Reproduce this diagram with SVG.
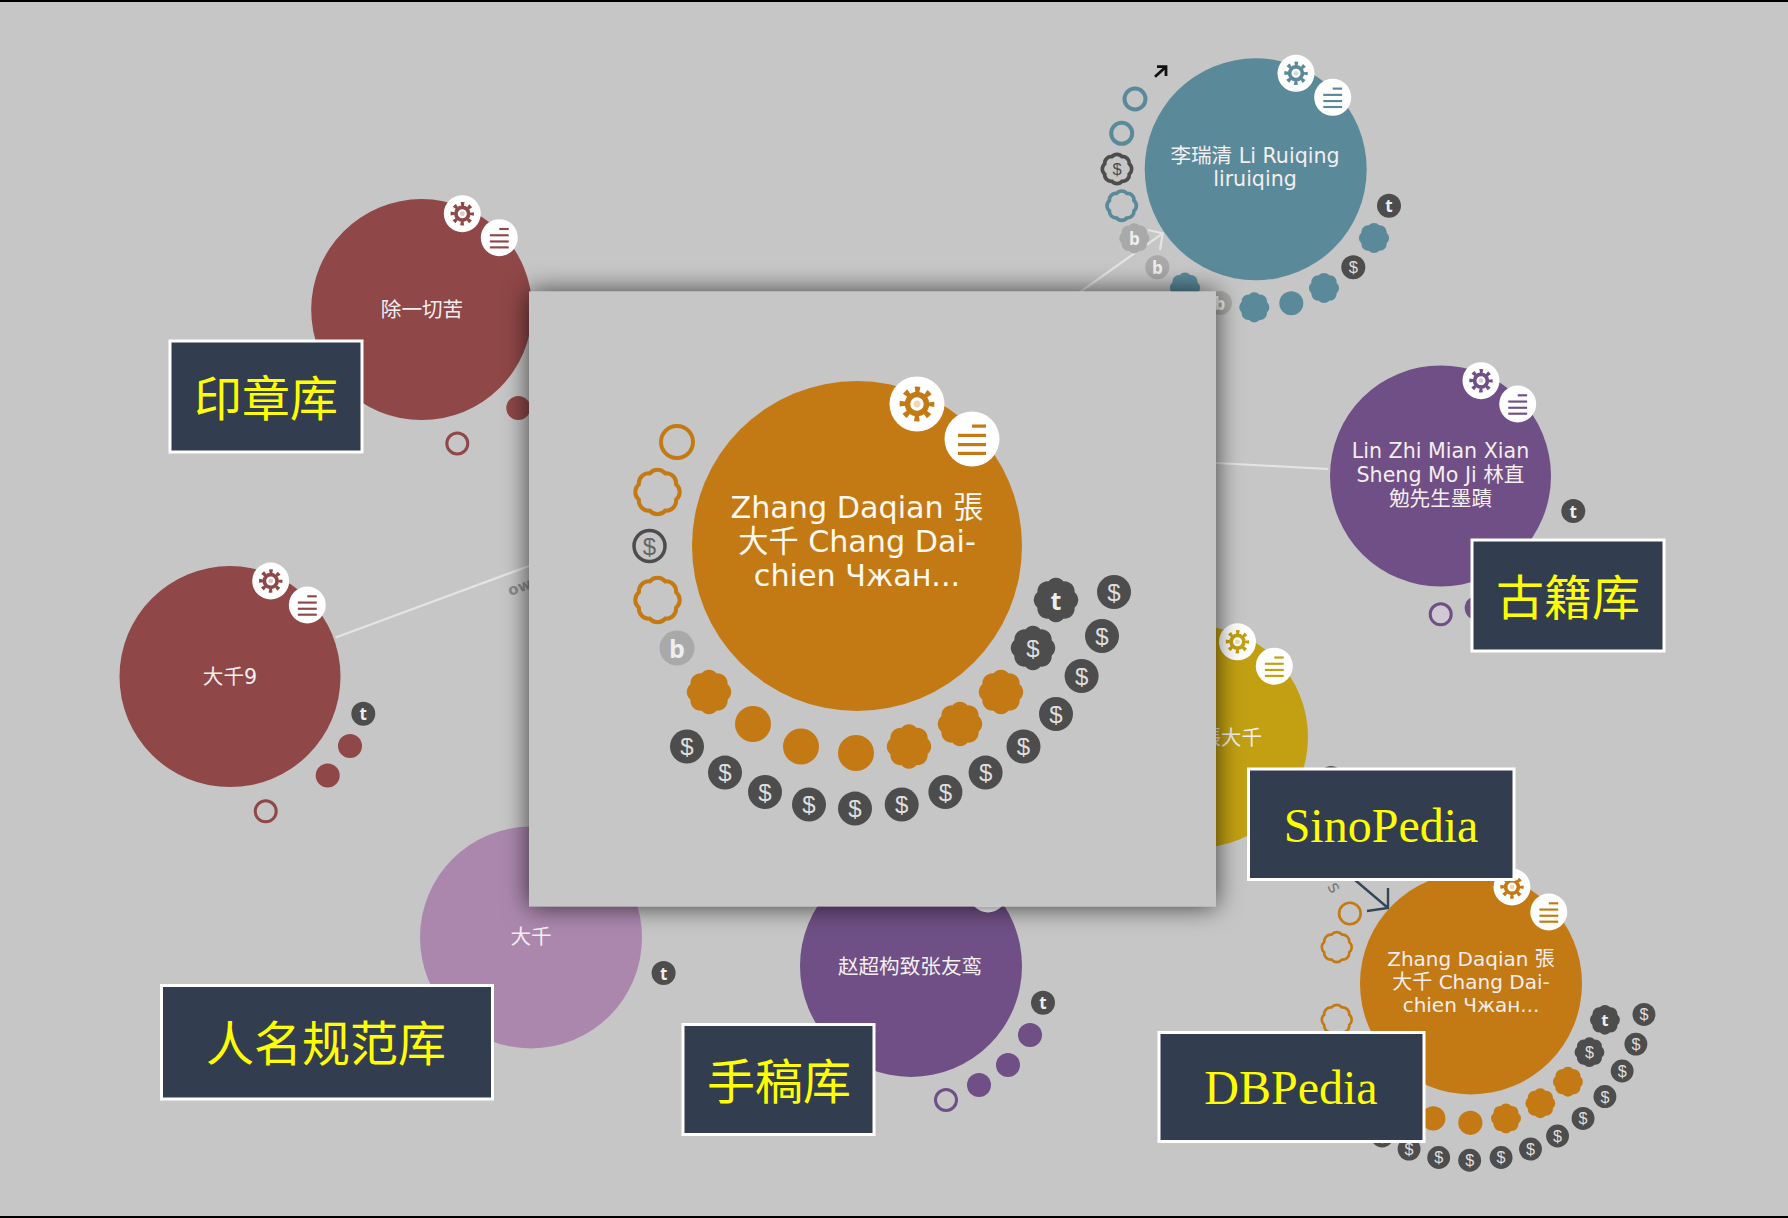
<svg xmlns="http://www.w3.org/2000/svg" width="1788" height="1218" viewBox="0 0 1788 1218">
<style>
.nt{font-family:"DejaVu Sans","Noto Sans CJK SC",sans-serif;fill:#f4eef0;text-anchor:middle;font-size:20.6px}
.ns{font-size:20px}
.nm{font-size:30.2px;fill:#fdf8f0}
.ic{font-family:"Liberation Sans",sans-serif;text-anchor:middle;dominant-baseline:central;fill:#dedede;font-size:24px}
.is{font-size:16.5px}
.bd{font-family:"Open Sans",sans-serif;font-weight:700;font-size:25px;fill:#eee}
.bs{font-size:17px}
.lb{fill:#333d50;stroke:#fff;stroke-width:3}
.lc{font-family:"Noto Sans CJK SC",sans-serif;fill:#ff0;font-size:48px;text-anchor:middle}
.lt{font-family:"Liberation Serif",serif;fill:#ff0;font-size:48px;text-anchor:middle}
.co{fill:none;stroke:#e4e4e4;stroke-width:2.2}
.dk{fill:#4d4d4d}
.gy{fill:#a9a9a9}
.z{fill:#c47a14;color:#c47a14}
.zo{fill:none;stroke:#c47a14;stroke-width:4}
.zr{fill:none;stroke:#c47a14;stroke-width:4}
.k{fill:#5a8a9a;color:#5a8a9a}
.ko{fill:none;stroke:#5a8a9a;stroke-width:4}
.r{fill:#8f4747;color:#8f4747}
.ro{fill:none;stroke:#8f4747;stroke-width:3}
.p{fill:#6f4f85;color:#6f4f85}
.po{fill:none;stroke:#6f4f85;stroke-width:3}
.q{fill:#ab87ae;color:#ab87ae}
.y{fill:#c2a012;color:#c2a012}
</style>
<defs>
<path id="fl" d="M18.6 7.7A10 10 0 0 1 7.7 18.6A10 10 0 0 1 -7.7 18.6A10 10 0 0 1 -18.6 7.7A10 10 0 0 1 -18.6 -7.7A10 10 0 0 1 -7.7 -18.6A10 10 0 0 1 7.7 -18.6A10 10 0 0 1 18.6 -7.7A10 10 0 0 1 18.6 7.7Z"/>
<g id="gear">
<circle r="27.5" fill="#fff"/>
<circle r="9.5" fill="none" stroke="currentColor" stroke-width="5.5"/>
<circle r="14.4" fill="none" stroke="currentColor" stroke-width="6" stroke-dasharray="5 6.31" stroke-dashoffset="2.5"/>
<circle r="3.5" fill="currentColor" opacity=".3"/>
</g>
<g id="menu">
<circle r="27.5" fill="#fff"/>
<g fill="currentColor">
<rect x="0" y="-14.5" width="14" height="3.2"/>
<rect x="-14" y="-5.2" width="28" height="3.2"/>
<rect x="-14" y="4" width="28" height="3.2"/>
<rect x="-14" y="12.8" width="28" height="3.2"/>
</g>
</g>
<g id="z-icons">
<circle cx="677" cy="442" r="16" class="zr"/>
<use href="#fl" x="657.5" y="492" class="zo"/>
<use href="#fl" x="657.5" y="600" class="zo"/>
<circle cx="677" cy="648" r="17.5" class="gy"/>
<text x="677" y="648" class="ic bd">b</text>
<use href="#fl" x="709" y="692" class="z"/>
<circle cx="753" cy="724" r="18" class="z"/>
<circle cx="801" cy="746.5" r="18" class="z"/>
<circle cx="856" cy="753" r="18" class="z"/>
<use href="#fl" x="909" y="746.5" class="z"/>
<use href="#fl" x="960" y="724" class="z"/>
<use href="#fl" x="1001" y="692" class="z"/>
<use href="#fl" x="1033" y="648" class="dk"/>
<text x="1033" y="648" class="ic">$</text>
<use href="#fl" x="1056" y="600" class="dk"/>
<text x="1056" y="600" class="ic bd">t</text>
<circle cx="1114" cy="592" r="17" class="dk"/><text x="1114" y="592" class="ic">$</text>
<circle cx="1102" cy="636" r="17" class="dk"/><text x="1102" y="636" class="ic">$</text>
<circle cx="1081.6" cy="676" r="17" class="dk"/><text x="1081.6" y="676" class="ic">$</text>
<circle cx="1056" cy="714" r="17" class="dk"/><text x="1056" y="714" class="ic">$</text>
<circle cx="1023.5" cy="746.5" r="17" class="dk"/><text x="1023.5" y="746.5" class="ic">$</text>
<circle cx="985.6" cy="772.6" r="17" class="dk"/><text x="985.6" y="772.6" class="ic">$</text>
<circle cx="945.4" cy="792" r="17" class="dk"/><text x="945.4" y="792" class="ic">$</text>
<circle cx="901.7" cy="804.5" r="17" class="dk"/><text x="901.7" y="804.5" class="ic">$</text>
<circle cx="855" cy="808.6" r="17" class="dk"/><text x="855" y="808.6" class="ic">$</text>
<circle cx="809" cy="804.5" r="17" class="dk"/><text x="809" y="804.5" class="ic">$</text>
<circle cx="765" cy="792" r="17" class="dk"/><text x="765" y="792" class="ic">$</text>
<circle cx="725" cy="772.6" r="17" class="dk"/><text x="725" y="772.6" class="ic">$</text>
<circle cx="687" cy="746.5" r="17" class="dk"/><text x="687" y="746.5" class="ic">$</text>
</g>
<filter id="sh" x="-10%" y="-10%" width="120%" height="120%"><feDropShadow dx="0" dy="0" stdDeviation="13" flood-color="#000" flood-opacity=".7"/></filter>
</defs>
<rect width="1788" height="1218" fill="#c6c6c6"/>
<rect width="1788" height="2" fill="#000"/>
<rect y="1216" width="1788" height="2" fill="#000"/>

<g id="connectors">
<path class="co" d="M1080 292L1162.7 233.3M1148 230L1162.7 233.3L1160 250"/>
<path class="co" d="M335.7 637.5L529 566"/>
<path class="co" d="M1216 463L1328 469"/>
<path d="M1355 880L1388 908M1388 888L1388 908L1367 911" fill="none" stroke="#36465a" stroke-width="2.4"/>
<path d="M1155 76.7L1166 66.7M1157 66.7L1166 66.7L1166 76" fill="none" stroke="#111" stroke-width="2.8"/>
<text transform="translate(510 596) rotate(-20)" font-family="DejaVu Sans,sans-serif" font-size="15" font-weight="700" fill="#8a8a8a">ow</text>
<text transform="translate(1335 887) rotate(60)" font-family="DejaVu Sans,sans-serif" font-size="18" fill="#7a7a7a" text-anchor="middle" dominant-baseline="central">s</text>
</g>

<g id="node-li-ruiqing">
<circle cx="1255.7" cy="169.3" r="111" class="k"/>
<text class="nt" x="1255" y="162.5">李瑞清 Li Ruiqing</text>
<text class="nt" x="1255" y="185.5">liruiqing</text>
<use href="#gear" transform="translate(1296 73.3) scale(.673)" class="k"/>
<use href="#menu" transform="translate(1332.7 97.3) scale(.673)" class="k"/>
<circle cx="1135" cy="99" r="10.5" class="ko"/>
<circle cx="1121.7" cy="133.3" r="10.5" class="ko"/>
<use href="#fl" transform="translate(1117 169) scale(.66)" fill="none" stroke="#4d4d4d" stroke-width="5.5"/>
<text x="1117" y="169" class="ic is" style="fill:#4d4d4d">$</text>
<use href="#fl" transform="translate(1121.7 205.7) scale(.66)" fill="none" stroke="#5a8a9a" stroke-width="5.5"/>
<use href="#fl" transform="translate(1134.3 238.3) scale(.68)" class="gy"/>
<text x="1134.3" y="238.3" class="ic bd bs">b</text>
<circle cx="1157.3" cy="267.3" r="12" class="gy"/>
<text x="1157.3" y="267.3" class="ic bd bs">b</text>
<use href="#fl" transform="translate(1185 287.7) scale(.68)" class="k"/>
<circle cx="1220" cy="303" r="12" class="gy"/>
<text x="1220" y="303" class="ic bd bs">b</text>
<use href="#fl" transform="translate(1254.3 307.3) scale(.68)" class="k"/>
<circle cx="1291.3" cy="303.3" r="12" class="k"/>
<use href="#fl" transform="translate(1324 288) scale(.68)" class="k"/>
<circle cx="1353.3" cy="267.3" r="12" class="dk"/>
<text x="1353.3" y="267.3" class="ic is">$</text>
<use href="#fl" transform="translate(1374 238) scale(.68)" class="k"/>
<circle cx="1389" cy="205.7" r="12" class="dk"/>
<text x="1389" y="205.7" class="ic bd bs">t</text>
</g>

<g id="node-chuyiqieku">
<circle cx="421.7" cy="309.6" r="110.5" class="r"/>
<text class="nt" x="422" y="317">除一切苦</text>
<use href="#gear" transform="translate(462.3 213.7) scale(.673)" class="r"/>
<use href="#menu" transform="translate(499.3 237.7) scale(.673)" class="r"/>
<circle cx="518.3" cy="408" r="12" class="r"/>
<circle cx="457.3" cy="443.5" r="10.5" class="ro"/>
</g>

<g id="node-daqian9">
<circle cx="230" cy="676.6" r="110.5" class="r"/>
<text class="nt" x="230" y="684">大千9</text>
<use href="#gear" transform="translate(270.7 581) scale(.673)" class="r"/>
<use href="#menu" transform="translate(307.3 605) scale(.673)" class="r"/>
<circle cx="363.3" cy="713.7" r="12" class="dk"/>
<text x="363.3" y="713.7" class="ic bd bs">t</text>
<circle cx="350" cy="746" r="12" class="r"/>
<circle cx="327.7" cy="775.5" r="12" class="r"/>
<circle cx="265.7" cy="811.3" r="10.5" class="ro"/>
</g>

<g id="node-daqian">
<circle cx="531" cy="937.5" r="111" class="q"/>
<text class="nt" x="531" y="944">大千</text>
<circle cx="663.6" cy="973" r="12" class="dk"/>
<text x="663.6" y="973" class="ic bd bs">t</text>
</g>

<g id="node-zhaochaogou">
<circle cx="911" cy="966" r="111" class="p"/>
<text class="nt" x="910" y="974">赵超构致张友鸾</text>
<use href="#menu" transform="translate(988 894) scale(.673)" class="p"/>
<circle cx="1043" cy="1002.7" r="12" class="dk"/>
<text x="1043" y="1002.7" class="ic bd bs">t</text>
<circle cx="1030" cy="1035" r="12" class="p"/>
<circle cx="1008" cy="1065" r="12" class="p"/>
<circle cx="979" cy="1085" r="12" class="p"/>
<circle cx="946" cy="1100" r="10.5" class="po"/>
</g>

<g id="node-lin-zhi-mian">
<circle cx="1440.5" cy="476" r="110.5" class="p"/>
<text class="nt" x="1440.5" y="457.7">Lin Zhi Mian Xian</text>
<text class="nt" x="1440.5" y="481.7">Sheng Mo Ji 林直</text>
<text class="nt" x="1440.5" y="506">勉先生墨蹟</text>
<use href="#gear" transform="translate(1481 380.7) scale(.673)" class="p"/>
<use href="#menu" transform="translate(1517.7 404) scale(.673)" class="p"/>
<circle cx="1573.3" cy="511" r="12" class="dk"/>
<text x="1573.3" y="511" class="ic bd bs">t</text>
<use href="#fl" transform="translate(1560 555) scale(.68)" class="p"/>
<circle cx="1476.7" cy="608" r="12" class="p"/>
<circle cx="1440.7" cy="614.3" r="10.5" class="po" style="fill:#d0c8d3"/>
</g>

<g id="node-zhang-daqian-yellow">
<circle cx="1197" cy="737" r="111" class="y"/>
<text class="nt" x="1262" y="745" style="text-anchor:end">張大千</text>
<use href="#gear" transform="translate(1237.5 641.8) scale(.673)" class="y"/>
<use href="#menu" transform="translate(1274.3 666.2) scale(.673)" class="y"/>
<circle cx="1331" cy="778" r="12" class="dk"/>
</g>

<g id="node-zhang-daqian-small">
<circle cx="1471" cy="983.5" r="111" class="z"/>
<text class="nt ns" x="1471" y="965.5">Zhang Daqian 張</text>
<text class="nt ns" x="1471" y="989">大千 Chang Dai-</text>
<text class="nt ns" x="1471" y="1012">chien Чжан...</text>
<use href="#gear" transform="translate(1512 887) scale(.673)" class="z"/>
<use href="#menu" transform="translate(1548.8 912) scale(.673)" class="z"/>
<use href="#z-icons" transform="translate(894.24 616.04) scale(.673)"/>
</g>

<g id="panel">
<rect x="529" y="291.5" width="687" height="615" fill="#c6c6c6" filter="url(#sh)"/>
<g id="node-zhang-daqian-main">
<circle cx="857" cy="546" r="165" class="z"/>
<text class="nt nm" x="857" y="517.8">Zhang Daqian 張</text>
<text class="nt nm" x="857" y="551.6">大千 Chang Dai-</text>
<text class="nt nm" x="857" y="585.5">chien Чжан...</text>
<use href="#gear" transform="translate(917 404)" class="z"/>
<use href="#menu" transform="translate(972 439)" class="z"/>
<use href="#z-icons"/>
<circle cx="649.5" cy="546" r="15.5" fill="none" stroke="#4d4d4d" stroke-width="3.5"/>
<text x="649.5" y="546" class="ic" style="fill:#666">$</text>
</g>
</g>

<g id="label-seal">
<rect class="lb" x="170" y="341" width="192" height="111"/>
<text class="lc" x="266" y="415.5">印章库</text>
</g>
<g id="label-ancient">
<rect class="lb" x="1472" y="540" width="192" height="111"/>
<text class="lc" x="1568" y="614.5">古籍库</text>
</g>
<g id="label-sinopedia">
<rect class="lb" x="1248.5" y="769" width="265.5" height="110.5"/>
<text class="lt" x="1381" y="842">SinoPedia</text>
</g>
<g id="label-dbpedia">
<rect class="lb" x="1159" y="1032.5" width="265" height="109"/>
<text class="lt" x="1291" y="1104">DBPedia</text>
</g>
<g id="label-names">
<rect class="lb" x="161.5" y="985.5" width="331" height="113.5"/>
<text class="lc" x="326" y="1060.5">人名规范库</text>
</g>
<g id="label-manuscript">
<rect class="lb" x="683" y="1024.5" width="191" height="110"/>
<text class="lc" x="779" y="1098.5">手稿库</text>
</g>
</svg>
